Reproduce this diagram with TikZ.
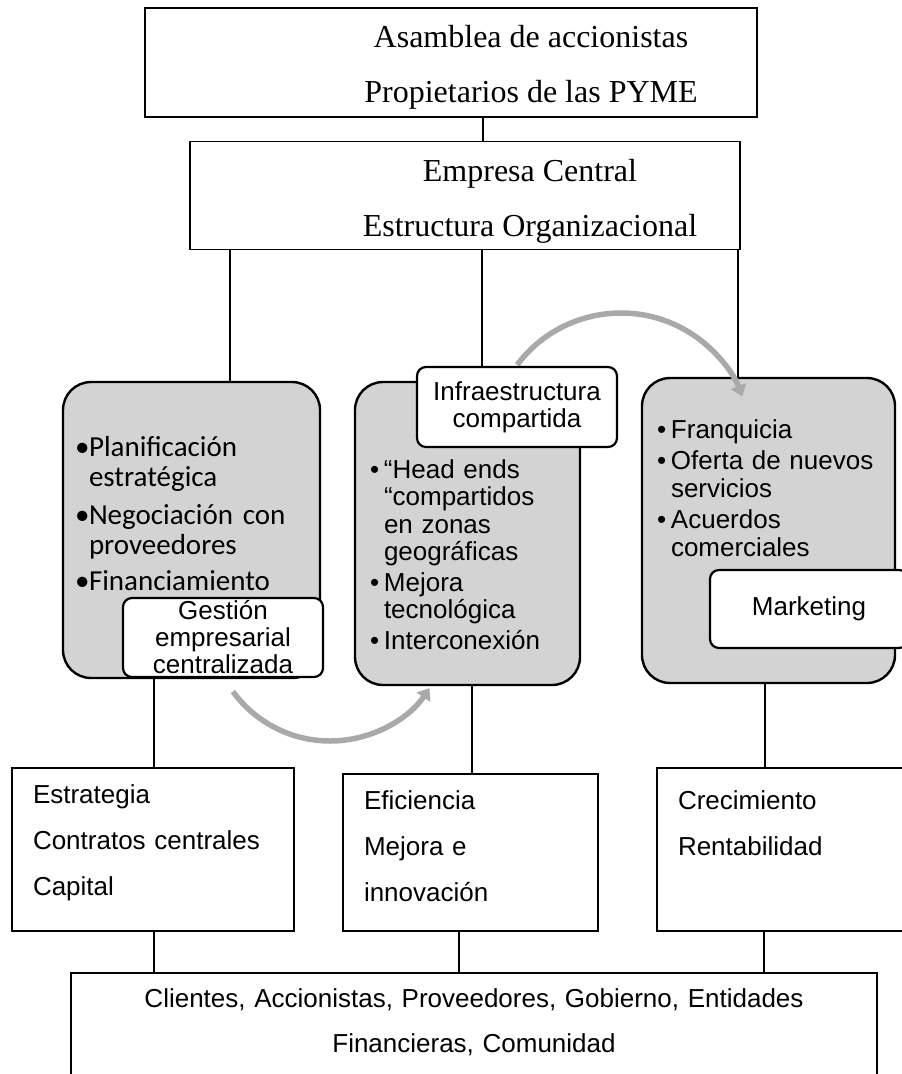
\documentclass[tikz,border=0pt]{standalone}
\usepackage{fontspec}
\setmainfont{Liberation Serif}
\newfontfamily\arial{Liberation Sans}
\newfontfamily\calibri{Carlito}
\usepackage{tikz}
\usetikzlibrary{arrows.meta, positioning, calc}

\definecolor{gris}{HTML}{D3D3D3}
\definecolor{flecha}{HTML}{A9A9A9}

\newcommand\vineta{\makebox[14pt][l]{•}}
\newcommand\sangria{\hspace*{14pt}}

\begin{document}
\begin{tikzpicture}[
          x=1pt, y=1pt,
          caja/.style={draw, line width=1.2pt, inner sep=0pt},
          serif/.style={font=\fontsize{32}{55}\selectfont, align=center, inner sep=0pt},
          lista/.style={caja, font=\arial\fontsize{26}{46}\selectfont, align=left},
          grupo/.style={draw, line width=2.4pt, rounded corners=28pt, fill=gris, align=left, inner sep=0pt},
          etiqueta/.style={draw, line width=2.2pt, rounded corners=9pt, fill=white, align=center, inner sep=0pt, font=\arial\fontsize{26}{27}\selectfont},
          linea/.style={line width=1.2pt},
          ciclo/.style={draw=flecha, line width=5.5pt, -{Triangle[width=16pt, length=11pt]}}
        ]
          \useasboundingbox (0,0) rectangle (902,-1074);

          \node[caja, minimum width=612pt, minimum height=109pt] (asamblea) at (451,-62.5) {};
          \node[serif] (asambleaT) at ([xshift=80pt, yshift=-4.8pt]asamblea.center) {Asamblea de accionistas\\Propietarios de las PYME};
          \node[caja, minimum width=550pt, minimum height=108pt, below=23pt of asamblea, xshift=14pt] (empresa) {};
          \node[serif] (empresaT) at ([xshift=65pt, yshift=-6.2pt]empresa.center) {Empresa Central\\Estructura Organizacional};

          \node[grupo, minimum width=257pt, minimum height=296pt, text width=233pt, text depth=167pt,
                font=\calibri\fontsize{29}{30}\selectfont] (gestionG) at (191.5,-530)
                {\vineta Planificación\\ \sangria estratégica\\[8pt] \vineta Negociación con\\ \sangria proveedores\\[6pt] \vineta Financiamiento};
          \node[grupo, minimum width=225pt, minimum height=303pt, text width=195pt, text height=61pt,
                font=\arial\fontsize{26}{27.5}\selectfont] (infraG) at (467.5,-533.5)
                {\vineta “Head ends\\ \sangria “compartidos\\ \sangria en zonas\\ \sangria geográficas\\[3pt] \vineta Mejora\\ \sangria tecnológica\\[3pt] \vineta Interconexión};
          \node[grupo, minimum width=253pt, minimum height=305pt, text width=223pt, text depth=203.6pt,
                font=\arial\fontsize{26}{28}\selectfont] (mercadeoG) at (768.5,-530.5)
                {\vineta Franquicia\\[3pt] \vineta Oferta de nuevos\\ \sangria servicios\\[3pt] \vineta Acuerdos\\ \sangria comerciales};

          \coordinate (ejeA) at (330,-621);
          \coordinate (ejeB) at (621,-443);
          \draw[ciclo] ([shift={(216:120pt)}]ejeA) arc[start angle=216, end angle=326, radius=120pt];
          \draw[ciclo] ([shift={(143:130pt)}]ejeB) arc[start angle=143, end angle=21, radius=130pt];

          \node[etiqueta, minimum width=200pt, minimum height=79pt] (gestion) at (223,-637.5) {Gestión\\empresarial\\centralizada};
          \node[etiqueta, minimum width=200pt, minimum height=80pt] (infra) at (517,-407) {Infraestructura\\compartida};
          \node[etiqueta, minimum width=198pt, minimum height=78pt] (marketing) at (809,-609) {Marketing};

          \node[lista, minimum width=282pt, minimum height=163pt, text width=240pt, text depth=111.6pt] (estrategia) at (153,-849.5) {Estrategia\\Contratos centrales\\Capital};
          \node[lista, minimum width=255pt, minimum height=157pt, text width=213pt, text depth=104pt] (eficiencia) at (470.5,-852.5) {Eficiencia\\Mejora e\\innovación};
          \node[lista, minimum width=249pt, minimum height=163pt, text width=207pt, text depth=98pt] (crecimiento) at (781.5,-849.5) {Crecimiento\\Rentabilidad};
          \node[caja, minimum width=806pt, minimum height=117pt, text width=780pt, align=center, text depth=66pt,
                font=\arial\fontsize{26}{45}\selectfont] (entorno) at (474,-1031.5)
                {Clientes, Accionistas, Proveedores, Gobierno, Entidades\\Financieras, Comunidad};

          \draw[linea] ([xshift=32pt]asamblea.south) -- ([xshift=18pt]empresa.north);
          \coordinate (c1) at ([xshift=-235pt]empresa.south);
          \coordinate (c2) at ([xshift=17pt]empresa.south);
          \coordinate (c3) at ([xshift=273pt]empresa.south);
          \draw[linea] (c1) -- (c1 |- gestionG.north);
          \draw[linea] (c2) -- (c2 |- infra.north);
          \draw[linea] (c3) -- (c3 |- mercadeoG.north);

          \coordinate (d1) at ([xshift=1pt]estrategia.north);
          \coordinate (d2) at ([xshift=1.5pt]eficiencia.north);
          \coordinate (d3) at ([xshift=-16.5pt]crecimiento.north);
          \draw[linea] (d1) -- (d1 |- gestionG.south);
          \draw[linea] (d2) -- (d2 |- infraG.south);
          \draw[linea] (d3) -- (d3 |- mercadeoG.south);

          \coordinate (e1) at ([xshift=1pt]estrategia.south);
          \coordinate (e2) at ([xshift=-11.5pt]eficiencia.south);
          \coordinate (e3) at ([xshift=-17.5pt]crecimiento.south);
          \draw[linea] (e1) -- (e1 |- entorno.north);
          \draw[linea] (e2) -- (e2 |- entorno.north);
          \draw[linea] (e3) -- (e3 |- entorno.north);
        \end{tikzpicture}
\end{document}
